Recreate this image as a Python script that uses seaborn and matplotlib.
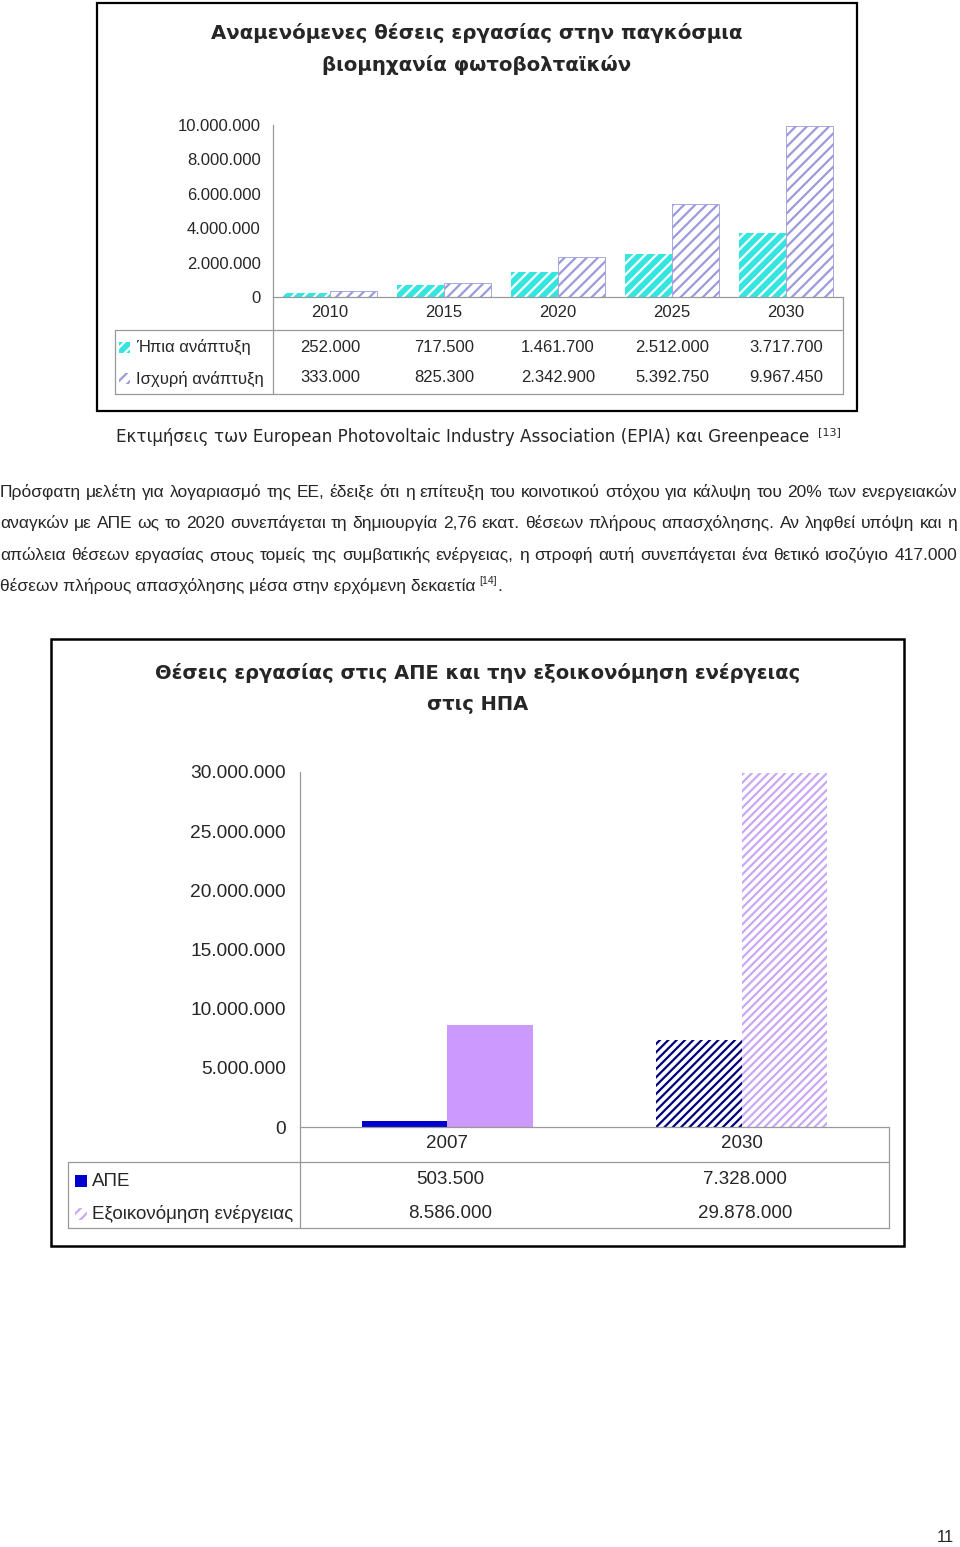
import numpy as np
import pandas as pd
import matplotlib
matplotlib.use("Agg")
import matplotlib.pyplot as plt
import seaborn as sns
from matplotlib.patches import Rectangle
from matplotlib.lines import Line2D
from matplotlib import transforms, font_manager

# ---------------- data ----------------
years1 = ["2010", "2015", "2020", "2025", "2030"]
series1 = ["Ήπια ανάπτυξη", "Ισχυρή ανάπτυξη"]
mild = [252000, 717500, 1461700, 2512000, 3717700]
strong = [333000, 825300, 2342900, 5392750, 9967450]
yticks1 = [0, 2000000, 4000000, 6000000, 8000000, 10000000]

years2 = ["2007", "2030"]
series2 = ["ΑΠΕ", "Εξοικονόμηση ενέργειας"]
res = [503500, 7328000]
saving = [8586000, 29878000]
yticks2 = [0, 5000000, 10000000, 15000000, 20000000, 25000000, 30000000]

title1 = ["Αναμενόμενες θέσεις εργασίας στην παγκόσμια", "βιομηχανία φωτοβολταϊκών"]
title2 = ["Θέσεις εργασίας στις ΑΠΕ και την εξοικονόμηση ενέργειας", "στις ΗΠΑ"]
caption = "Εκτιμήσεις των European Photovoltaic Industry Association (EPIA) και Greenpeace"
paragraph = [
    "Πρόσφατη μελέτη για λογαριασμό της ΕΕ, έδειξε ότι η επίτευξη του κοινοτικού στόχου για κάλυψη του 20% των ενεργειακών",
    "αναγκών με ΑΠΕ ως το 2020 συνεπάγεται τη δημιουργία 2,76 εκατ. θέσεων πλήρους απασχόλησης. Αν ληφθεί υπόψη και η",
    "απώλεια θέσεων εργασίας στους τομείς της συμβατικής ενέργειας, η στροφή αυτή συνεπάγεται ένα θετικό ισοζύγιο 417.000",
    "θέσεων πλήρους απασχόλησης μέσα στην ερχόμενη δεκαετία",
]


def fmt(v):
    return f"{int(v):,}".replace(",", ".")


# ---------------- style ----------------
sns.set_style("white")
plt.rcParams["font.family"] = ["Liberation Sans", "DejaVu Sans"]
plt.rcParams["hatch.linewidth"] = 1.6

installed = {f.name for f in font_manager.fontManager.ttflist}
narrow = "Liberation Sans Narrow" if "Liberation Sans Narrow" in installed else "Liberation Sans"

W, H = 960, 1547
fig = plt.figure(figsize=(W / 100, H / 100), dpi=100)
fig.patch.set_facecolor("white")


def fx(px):
    return px / W


def fy(py):
    return 1 - py / H


GRID = "#999999"


def hline(x0, x1, y, c=GRID, lw=0.9):
    fig.add_artist(Line2D([fx(x0), fx(x1)], [fy(y), fy(y)], color=c, lw=lw,
                          transform=fig.transFigure))


def vline(x, y0, y1, c=GRID, lw=0.9):
    fig.add_artist(Line2D([fx(x), fx(x)], [fy(y0), fy(y1)], color=c, lw=lw,
                          transform=fig.transFigure))


def swatch(x, y, w, h, **kw):
    fig.add_artist(Rectangle((fx(x), fy(y + h)), w / W, h / H,
                             transform=fig.transFigure, **kw))


# ================= Chart 1 =================
CYAN = "#35e6e0"
LAV1 = "#9b9bdb"
fig.add_artist(Rectangle((fx(97), fy(411)), 760 / W, 408 / H, fill=False,
                         ec="black", lw=1.6, transform=fig.transFigure))
for txt, yy in zip(title1, [33, 65]):
    fig.text(fx(477), fy(yy), txt, ha="center", va="center", fontsize=14.2,
             fontweight="bold", family=["DejaVu Sans"])

ax1 = fig.add_axes([fx(273), fy(297), (843 - 273) / W, (297 - 125) / H])
df1 = pd.DataFrame({"year": years1 * 2, "value": mild + strong,
                    "series": [series1[0]] * 5 + [series1[1]] * 5})
sns.barplot(data=df1, x="year", y="value", hue="series", order=years1,
            hue_order=series1, palette=[CYAN, LAV1], width=0.82,
            saturation=1, legend=False, ax=ax1)
for b in ax1.containers[0]:
    b.set_facecolor(CYAN); b.set_edgecolor("white"); b.set_hatch("///"); b.set_linewidth(0)
for b in ax1.containers[1]:
    b.set_facecolor("white"); b.set_edgecolor(LAV1); b.set_hatch("///"); b.set_linewidth(0.6)
ax1.set_xlim(-0.5, 4.5)
ax1.set_ylim(0, 10000000)
ax1.set_yticks(yticks1)
ax1.set_yticklabels([fmt(v) for v in yticks1])
ax1.set_xlabel(""); ax1.set_ylabel("")
ax1.tick_params(axis="y", length=5, color=GRID, width=0.8, pad=4, labelsize=12)
ax1.tick_params(axis="x", length=0, pad=6, labelsize=12)
for s in ["top", "right"]:
    ax1.spines[s].set_visible(False)
for s in ["left", "bottom"]:
    ax1.spines[s].set_color(GRID); ax1.spines[s].set_linewidth(0.9)

# data table 1
vline(273, 297, 394); vline(843, 297, 394)
hline(115, 843, 330); hline(115, 843, 394); vline(115, 330, 394)
bl1 = transforms.blended_transform_factory(ax1.transData, fig.transFigure)
for i in range(len(years1)):
    fig.text(i, fy(347), fmt(mild[i]), transform=bl1, ha="center", va="center", fontsize=12)
    fig.text(i, fy(378), fmt(strong[i]), transform=bl1, ha="center", va="center", fontsize=12)
swatch(119, 342, 11, 11, facecolor=CYAN, edgecolor="white", hatch="///", lw=0)
swatch(119, 373, 11, 11, facecolor="white", edgecolor=LAV1, hatch="///", lw=0)
fig.text(fx(136), fy(347), series1[0], ha="left", va="center", fontsize=12)
fig.text(fx(136), fy(379), series1[1], ha="left", va="center", fontsize=12)

# caption
fig.text(fx(463), fy(437), caption, ha="center", va="center", fontsize=12.1,
         family=["DejaVu Sans"])
fig.text(fx(818), fy(432), "[13]", ha="left", va="center", fontsize=8,
         family=["DejaVu Sans"])

# ---------------- paragraph (justified) ----------------
renderer = fig.canvas.get_renderer()
fs = 13.5
probe = fig.text(0, 0, paragraph[0], fontsize=fs, family=[narrow])
wfull = probe.get_window_extent(renderer).width
probe.remove()
if wfull > 950:
    fs = fs * 950 / wfull

baselines = [497, 528, 560, 591]
for k, line in enumerate(paragraph):
    if k < 3:
        words = line.split(" ")
        ts = [fig.text(0, fy(baselines[k]), w, fontsize=fs, family=[narrow], va="baseline")
              for w in words]
        ws = [t.get_window_extent(renderer).width for t in ts]
        gap = (957 - sum(ws)) / (len(words) - 1)
        x = 0
        for t, w in zip(ts, ws):
            t.set_x(fx(x)); x += w + gap
    else:
        t = fig.text(0, fy(baselines[k]), line, fontsize=fs, family=[narrow], va="baseline")
        w = t.get_window_extent(renderer).width
        t2 = fig.text(fx(w + 4), fy(baselines[k] - 7), "[14]", fontsize=fs * 0.6,
                      family=[narrow], va="baseline")
        w2 = t2.get_window_extent(renderer).width
        fig.text(fx(w + 4 + w2), fy(baselines[k]), ".", fontsize=fs, family=[narrow], va="baseline")

# ================= Chart 2 =================
BLUE = "#0000cc"
NAVY = "#000080"
VIOL = "#cc99ff"
LAV2 = "#c9a9f2"
fig.add_artist(Rectangle((fx(51), fy(1246)), 853 / W, 607 / H, fill=False,
                         ec="black", lw=1.8, transform=fig.transFigure))
for txt, yy in zip(title2, [673, 705]):
    fig.text(fx(478), fy(yy), txt, ha="center", va="center", fontsize=14,
             fontweight="bold", family=["DejaVu Sans"])

ax2 = fig.add_axes([fx(300), fy(1127), (889 - 300) / W, (1127 - 772) / H])
df2 = pd.DataFrame({"year": years2 * 2, "value": res + saving,
                    "series": [series2[0]] * 2 + [series2[1]] * 2})
sns.barplot(data=df2, x="year", y="value", hue="series", order=years2,
            hue_order=series2, palette=[BLUE, VIOL], width=0.58,
            saturation=1, legend=False, ax=ax2)
c0, c1 = ax2.containers[0], ax2.containers[1]
c0[0].set_facecolor(BLUE); c0[0].set_linewidth(0)
c0[1].set_facecolor("white"); c0[1].set_edgecolor(NAVY); c0[1].set_hatch("////"); c0[1].set_linewidth(0)
c1[0].set_facecolor(VIOL); c1[0].set_linewidth(0)
c1[1].set_facecolor("white"); c1[1].set_edgecolor(LAV2); c1[1].set_hatch("////"); c1[1].set_linewidth(0)
ax2.set_xlim(-0.5, 1.5)
ax2.set_ylim(0, 30000000)
ax2.set_yticks(yticks2)
ax2.set_yticklabels([fmt(v) for v in yticks2])
ax2.set_xlabel(""); ax2.set_ylabel("")
ax2.tick_params(axis="y", length=5, color=GRID, width=0.8, pad=5, labelsize=13.8)
ax2.tick_params(axis="x", length=0, pad=6, labelsize=13.5)
for s in ["top", "right"]:
    ax2.spines[s].set_visible(False)
for s in ["left", "bottom"]:
    ax2.spines[s].set_color(GRID); ax2.spines[s].set_linewidth(0.9)

# data table 2
vline(300, 1127, 1228); vline(889, 1127, 1228)
hline(68, 889, 1162); hline(68, 889, 1228); vline(68, 1162, 1228)
bl2 = transforms.blended_transform_factory(ax2.transData, fig.transFigure)
for i in range(len(years2)):
    fig.text(i + 0.01, fy(1180), fmt(res[i]), transform=bl2, ha="center", va="center", fontsize=13.5)
    fig.text(i + 0.01, fy(1213), fmt(saving[i]), transform=bl2, ha="center", va="center", fontsize=13.5)
swatch(75, 1175, 12, 12, facecolor=BLUE, lw=0)
swatch(75, 1208, 12, 12, facecolor="white", edgecolor=LAV2, hatch="///", lw=0)
fig.text(fx(92), fy(1181), series2[0], ha="left", va="center", fontsize=13.5)
fig.text(fx(92), fy(1214), series2[1], ha="left", va="center", fontsize=13.5)

# page number
fig.text(fx(945), fy(1537), "11", ha="center", va="center", fontsize=12)

fig.savefig("out.png", dpi=100, facecolor="white")
